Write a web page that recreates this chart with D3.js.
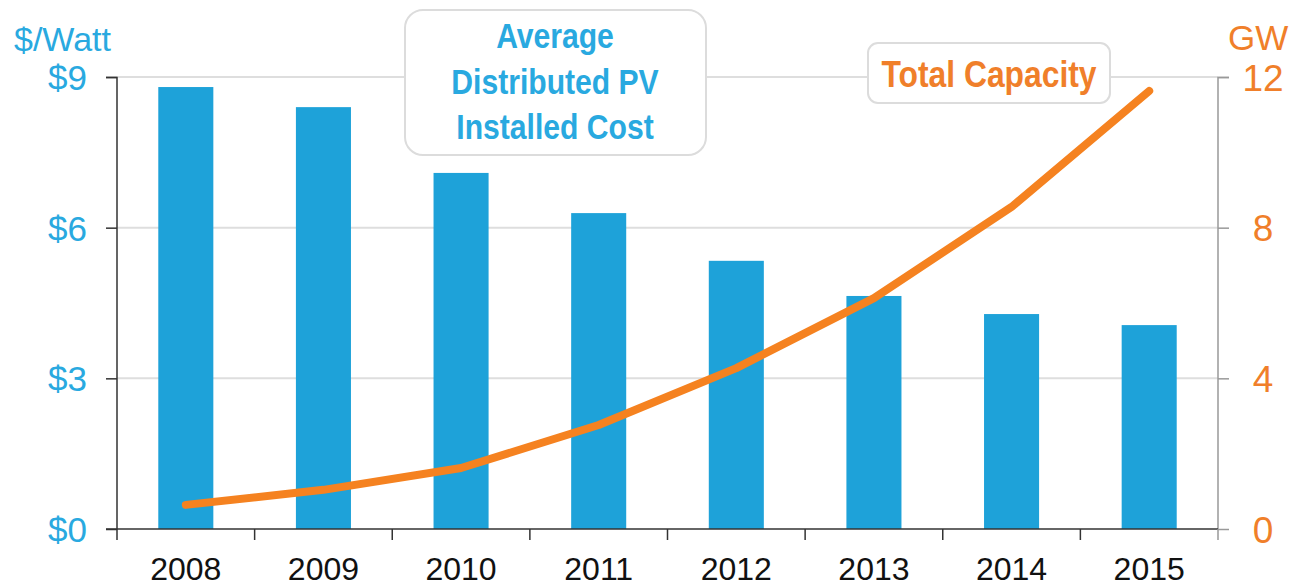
<!DOCTYPE html>
<html>
<head>
<meta charset="utf-8">
<script src="https://cdn.jsdelivr.net/npm/d3@7"></script>
<style>
  body { margin: 0; background: #fff; }
  svg { font-family: "Liberation Sans", Arial, sans-serif; }
</style>
</head>
<body>
<svg id="svg" width="1293" height="585"></svg>
<script>
// data
const years = ["2008", "2009", "2010", "2011", "2012", "2013", "2014", "2015"];
const costPerWatt = [8.80, 8.40, 7.09, 6.29, 5.34, 4.64, 4.28, 4.06];
const capacityGW = [0.64, 1.04, 1.62, 2.76, 4.27, 6.13, 8.55, 11.63];
const leftTicks = [0, 3, 6, 9];
const rightTicks = [0, 4, 8, 12];
const costTitle = ["Average", "Distributed PV", "Installed Cost"];
const capacityTitle = "Total Capacity";
const leftUnit = "$/Watt";
const rightUnit = "GW";

const blue = "#1ea2d9", blueText = "#29a9e0", orange = "#f58220", orangeText = "#f07f2a";

var svg = d3.select("#svg");
const margin = {top: 77, left: 117, right: 75, bottom: 56};
const width = 1293, height = 585;
const innerWidth = width - margin.left - margin.right;
const innerHeight = height - margin.top - margin.bottom;

const xScale = d3.scaleBand()
  .domain(years)
  .range([0, innerWidth])
  .paddingInner(0.6)
  .paddingOuter(0.3);

const yLeft = d3.scaleLinear().domain([0, 9]).range([innerHeight, 0]);
const yRight = d3.scaleLinear().domain([0, 12]).range([innerHeight, 0]);

const g = svg.append("g").attr("transform", `translate(${margin.left},${margin.top})`);

// gridlines
g.selectAll(".grid").data(leftTicks.filter(d => d > 0))
  .enter().append("line")
  .attr("x1", 0).attr("x2", innerWidth)
  .attr("y1", d => yLeft(d)).attr("y2", d => yLeft(d))
  .attr("stroke", "#dedede").attr("stroke-width", 2);

// bars
g.selectAll("rect.bar").data(years)
  .enter().append("rect")
  .attr("x", d => xScale(d))
  .attr("y", (d, i) => yLeft(costPerWatt[i]))
  .attr("width", xScale.bandwidth())
  .attr("height", (d, i) => innerHeight - yLeft(costPerWatt[i]))
  .attr("fill", blue);

// capacity line
const line = d3.line()
  .x((d, i) => xScale(years[i]) + xScale.bandwidth() / 2)
  .y(d => yRight(d));
g.append("path").datum(capacityGW)
  .attr("d", line)
  .attr("fill", "none")
  .attr("stroke", orange)
  .attr("stroke-width", 8)
  .attr("stroke-linecap", "round")
  .attr("stroke-linejoin", "round");

// left axis
const leftAxis = g.append("g")
  .call(d3.axisLeft(yLeft).tickValues(leftTicks).tickSize(11).tickPadding(19).tickFormat(d => "$" + d));
leftAxis.select(".domain").attr("stroke", "#333").attr("stroke-width", 1.5).attr("d", `M-11,0.5H0V${innerHeight}`);
leftAxis.selectAll(".tick line").attr("stroke", "#333").attr("stroke-width", 1.5);
leftAxis.selectAll(".tick text").attr("fill", blueText).attr("font-size", 35).attr("dy", "0.36em");

// right axis
const rightAxis = g.append("g")
  .attr("transform", `translate(${innerWidth},0)`)
  .call(d3.axisRight(yRight).tickValues(rightTicks).tickSize(11).tickPadding(31));
rightAxis.select(".domain").attr("stroke", "#999").attr("stroke-width", 1.5).attr("d", `M11,0.5H0V${innerHeight}`);
rightAxis.selectAll(".tick line").attr("stroke", "#999").attr("stroke-width", 1.5);
rightAxis.selectAll(".tick text").attr("fill", orangeText).attr("font-size", 37)
  .attr("text-anchor", "middle").attr("x", 45).attr("dy", "0.36em");

// bottom axis: labels at band centres, ticks at band edges
const bottomAxis = g.append("g")
  .attr("transform", `translate(0,${innerHeight})`)
  .call(d3.axisBottom(xScale).tickSize(0).tickPadding(28));
bottomAxis.select(".domain").attr("stroke", "#333").attr("stroke-width", 1.5).attr("d", `M-11,0H${innerWidth}`);
bottomAxis.selectAll(".tick text").attr("fill", "#111").attr("font-size", 32);
const edges = years.map(d => xScale(d) - xScale.step() * 0.3).concat([innerWidth]);
bottomAxis.selectAll(".edge").data(edges)
  .enter().append("line")
  .attr("x1", d => d).attr("x2", d => d)
  .attr("y1", 0).attr("y2", 11)
  .attr("stroke", (d, i) => i === edges.length - 1 ? "#999" : "#333")
  .attr("stroke-width", 1.5);

// unit labels
svg.append("text").attr("x", 14).attr("y", 51)
  .attr("fill", blueText).attr("font-size", 34).text(leftUnit);
svg.append("text").attr("x", 1228).attr("y", 50)
  .attr("fill", orangeText).attr("font-size", 35).text(rightUnit);

// callout boxes
const squeeze = sel => sel.each(function () {
  const w = this.getComputedTextLength();
  d3.select(this).attr("textLength", w * 0.86).attr("lengthAdjust", "spacingAndGlyphs");
});

svg.append("rect")
  .attr("x", 405).attr("y", 10).attr("width", 301).attr("height", 145)
  .attr("rx", 18)
  .attr("fill", "#fff").attr("stroke", "#dcdcdc").attr("stroke-width", 2);
svg.selectAll(".costTitle").data(costTitle)
  .enter().append("text")
  .attr("x", 555).attr("y", (d, i) => 48 + i * 45.5)
  .attr("text-anchor", "middle")
  .attr("font-weight", "bold").attr("font-size", 35)
  .attr("fill", blueText)
  .text(d => d)
  .call(squeeze);

svg.append("rect")
  .attr("x", 868).attr("y", 43).attr("width", 242).attr("height", 60)
  .attr("rx", 10)
  .attr("fill", "#fff").attr("stroke", "#dcdcdc").attr("stroke-width", 2);
svg.append("text")
  .attr("x", 989).attr("y", 87)
  .attr("text-anchor", "middle")
  .attr("font-weight", "bold").attr("font-size", 37)
  .attr("fill", orangeText)
  .text(capacityTitle)
  .call(squeeze);
</script>
</body>
</html>
